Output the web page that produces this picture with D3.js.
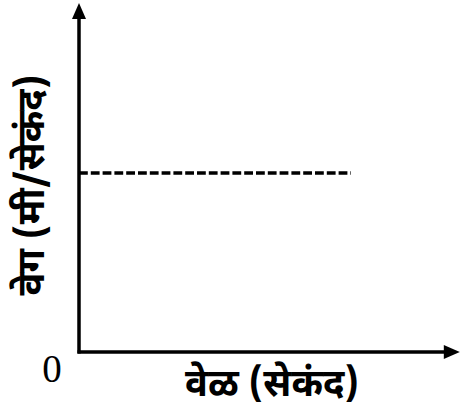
<!DOCTYPE html>
<html>
<head>
<meta charset="utf-8">
<script src="https://cdn.jsdelivr.net/npm/d3@7"></script>
<style>
  html, body { margin: 0; padding: 0; background: #fff; }
  svg { display: block; }
  .lbl { font-family: "Noto Sans Devanagari", "Lohit Devanagari", "Mukta", "Noto Sans", sans-serif; font-weight: bold; fill: #000; }
</style>
</head>
<body>
<svg id="chart" width="461" height="415"></svg>
<script>
// Uniform velocity: speed stays constant over time
const times = [0, 8];
const speeds = [5, 5];
const originLabel = "0";
const xTitle = "वेळ (सेकंद)";
const yTitle = "वेग (मी/सेकंद)";

const xMax = 11.2, yMax = 9.75;
const ox = 79, oy = 352;

const svg = d3.select("#chart");
const x = d3.scaleLinear().domain([0, xMax]).range([ox, ox + xMax * 34]);
const y = d3.scaleLinear().domain([0, yMax]).range([oy, oy - yMax * 35.8]);

// axes
svg.append("line")
  .attr("x1", x(0)).attr("y1", y(0) + 1.5)
  .attr("x2", x(0)).attr("y2", y(yMax) + 12)
  .attr("stroke", "#000").attr("stroke-width", 3.5);
svg.append("line")
  .attr("x1", x(0) - 1.5).attr("y1", y(0))
  .attr("x2", x(xMax) - 12).attr("y2", y(0))
  .attr("stroke", "#000").attr("stroke-width", 3.5);

// arrow heads
const tx = x(0), ty = y(yMax);
svg.append("path")
  .attr("d", `M${tx},${ty} L${tx - 7},${ty + 16} L${tx + 7},${ty + 16} Z`)
  .attr("fill", "#000");
const rx = x(xMax), ry = y(0);
svg.append("path")
  .attr("d", `M${rx},${ry} L${rx - 16},${ry - 7} L${rx - 16},${ry + 7} Z`)
  .attr("fill", "#000");

// constant speed line
const line = d3.line().x((d, i) => x(times[i])).y(d => y(d));
svg.append("path")
  .datum(speeds)
  .attr("d", line)
  .attr("fill", "none")
  .attr("stroke", "#000")
  .attr("stroke-width", 3.3)
  .attr("stroke-dasharray", "8.8,3");

// origin
svg.append("text")
  .attr("x", 52).attr("y", 382)
  .attr("text-anchor", "middle")
  .attr("font-family", "'Liberation Serif', 'Times New Roman', serif")
  .attr("font-size", 39)
  .text(originLabel);

// titles
svg.append("text").attr("class", "lbl")
  .attr("x", 272).attr("y", 396)
  .attr("text-anchor", "middle")
  .attr("font-size", 38)
  .text(xTitle);

svg.append("text").attr("class", "lbl")
  .attr("transform", "translate(44,185) rotate(-90)")
  .attr("text-anchor", "middle")
  .attr("font-size", 38)
  .text(yTitle);
</script>
</body>
</html>
